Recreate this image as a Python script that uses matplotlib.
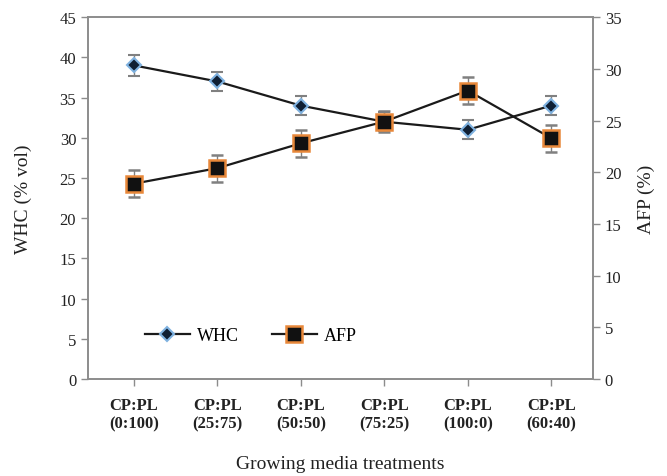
import numpy as np
import matplotlib
matplotlib.use("Agg")
import matplotlib.pyplot as plt
from matplotlib.lines import Line2D

plt.rcParams['font.family'] = ['Liberation Serif', 'DejaVu Serif']

# data
treatments = ["CP:PL\n(0:100)", "CP:PL\n(25:75)", "CP:PL\n(50:50)",
              "CP:PL\n(75:25)", "CP:PL\n(100:0)", "CP:PL\n(60:40)"]
whc = [39.0, 37.0, 34.0, 32.0, 31.0, 34.0]
whc_err = [1.3, 1.2, 1.2, 1.2, 1.2, 1.2]
afp = [18.9, 20.4, 22.8, 24.9, 27.9, 23.3]
afp_err = [1.3, 1.3, 1.3, 1.0, 1.3, 1.3]

x = np.arange(len(treatments))
axis_grey = '#8c8c8c'

whc_style = dict(color='#1a1a1a', lw=1.6, marker='D', markersize=7,
                 markerfacecolor='#0f1f33', markeredgecolor='#7fb2e0', markeredgewidth=1.5)
afp_style = dict(color='#1a1a1a', lw=1.6, marker='s', markersize=11,
                 markerfacecolor='#111111', markeredgecolor='#e8883a', markeredgewidth=1.8)

fig, ax = plt.subplots(figsize=(6.67, 4.77), dpi=100)
fig.subplots_adjust(left=0.132, right=0.889, top=0.962, bottom=0.203)
ax2 = ax.twinx()

ax.errorbar(x, whc, yerr=whc_err, ecolor='#808080', elinewidth=1, capsize=4,
            capthick=1, zorder=3, **whc_style)
ax2.errorbar(x, afp, yerr=afp_err, ecolor='#808080', elinewidth=1, capsize=4,
             capthick=1, zorder=3, **afp_style)

ax.set_xlim(-0.55, 5.5)
ax.set_ylim(0, 45)
ax.set_yticks(np.arange(0, 46, 5))
ax2.set_ylim(0, 35)
ax2.set_yticks(np.arange(0, 36, 5))

ax.set_xticks(x)
ax.set_xticklabels(treatments, fontweight='bold', fontsize=12, linespacing=1.2)

for a in (ax, ax2):
    for s in a.spines.values():
        s.set_color(axis_grey)
        s.set_linewidth(1.2)
    a.tick_params(axis='both', colors=axis_grey, labelcolor='#222222',
                  labelsize=12, direction='out', length=5, width=1)
ax.tick_params(axis='x', pad=8)

ax.set_ylabel("WHC (% vol)", fontsize=14, color='#222222', labelpad=20)
ax2.set_ylabel("AFP (%)", fontsize=14, color='#222222', rotation=90, labelpad=12)
ax.set_xlabel("Growing media treatments", fontsize=14, color='#222222', labelpad=17)

handles = [Line2D([], [], **whc_style), Line2D([], [], **afp_style)]
ax.legend(handles, ['WHC', 'AFP'], loc='center left', bbox_to_anchor=(0.08, 0.12),
          ncol=2, frameon=False, fontsize=13, handlelength=2.5, columnspacing=1.8,
          handletextpad=0.4)

plt.savefig("out.png", dpi=100)
